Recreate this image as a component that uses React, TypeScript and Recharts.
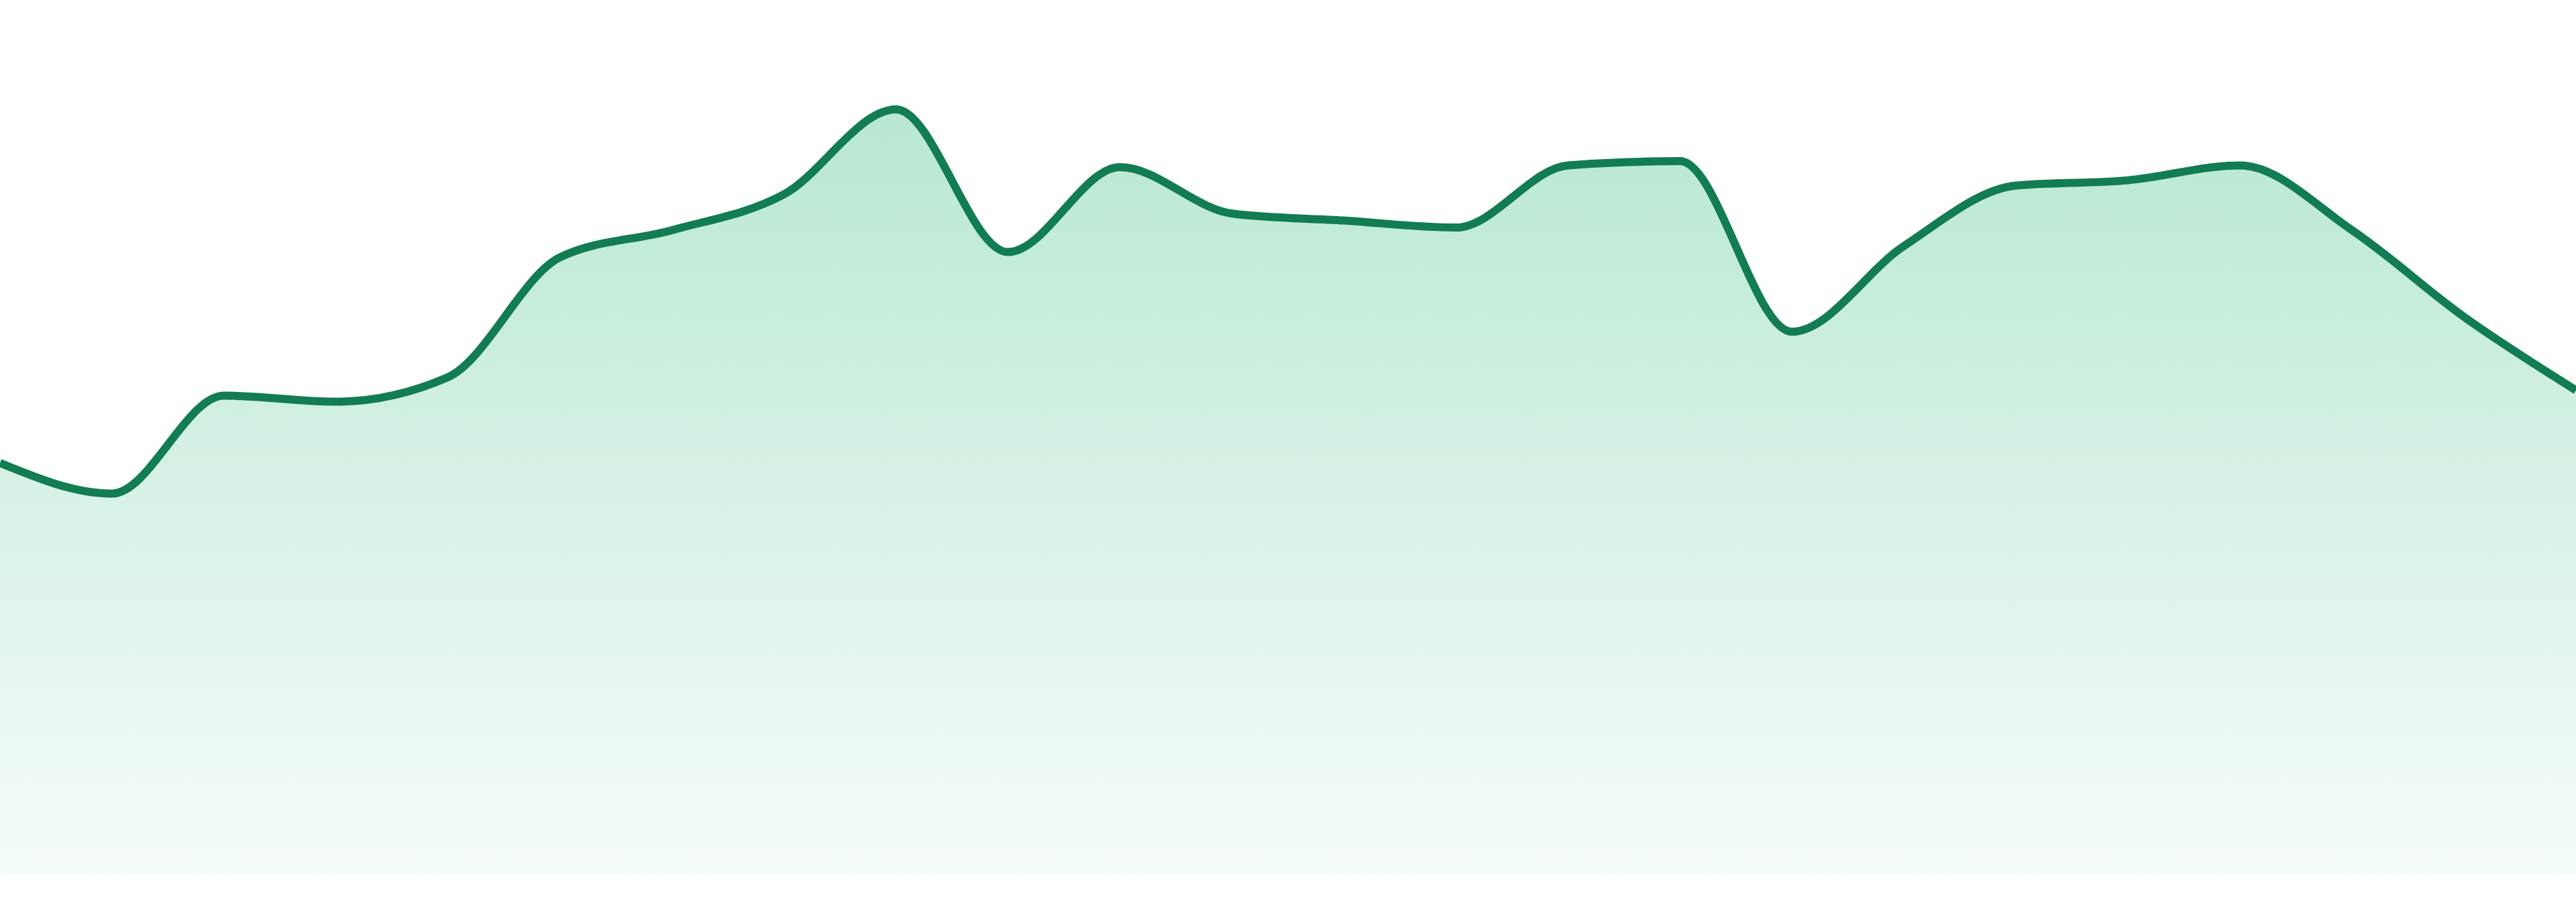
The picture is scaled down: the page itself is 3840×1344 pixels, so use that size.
import React from "react";
import { AreaChart, Area, XAxis, YAxis } from "recharts";

const labels: string[] = [
  "1", "2", "3", "4", "5", "6", "7", "8", "9", "10", "11", "12",
  "13", "14", "15", "16", "17", "18", "19", "20", "21", "22", "23", "24",
];

const values: number[] = [
  47.1, 43.6, 54.8, 54.1, 56.9, 70.6, 73.7, 77.8, 87.5, 71.2, 80.9, 75.6,
  74.8, 74.0, 81.1, 81.6, 62.1, 71.9, 78.8, 79.4, 81.1, 73.7, 63.8, 55.4,
];

const data = labels.map((label, i) => ({ label, value: values[i] }));

export default function App() {
  return (
    <div style={{ position: "absolute", left: 0, top: 0, width: 3840, height: 1344, background: "#ffffff" }}>
      <AreaChart
        width={3840}
        height={1344}
        data={data}
        margin={{ top: 0, right: 0, bottom: 40, left: 0 }}
      >
        <defs>
          <linearGradient id="fillGrad" x1="0" y1="0" x2="0" y2="1">
            <stop offset="0%" stopColor="#20b673" stopOpacity={0.32} />
            <stop offset="100%" stopColor="#20b673" stopOpacity={0.04} />
          </linearGradient>
        </defs>
        <XAxis dataKey="label" hide />
        <YAxis hide domain={[0, 100]} />
        <Area
          type="monotone"
          dataKey="value"
          stroke="#127c52"
          strokeWidth={12}
          fill="url(#fillGrad)"
          fillOpacity={1}
          dot={false}
          activeDot={false}
          isAnimationActive={false}
        />
      </AreaChart>
    </div>
  );
}
